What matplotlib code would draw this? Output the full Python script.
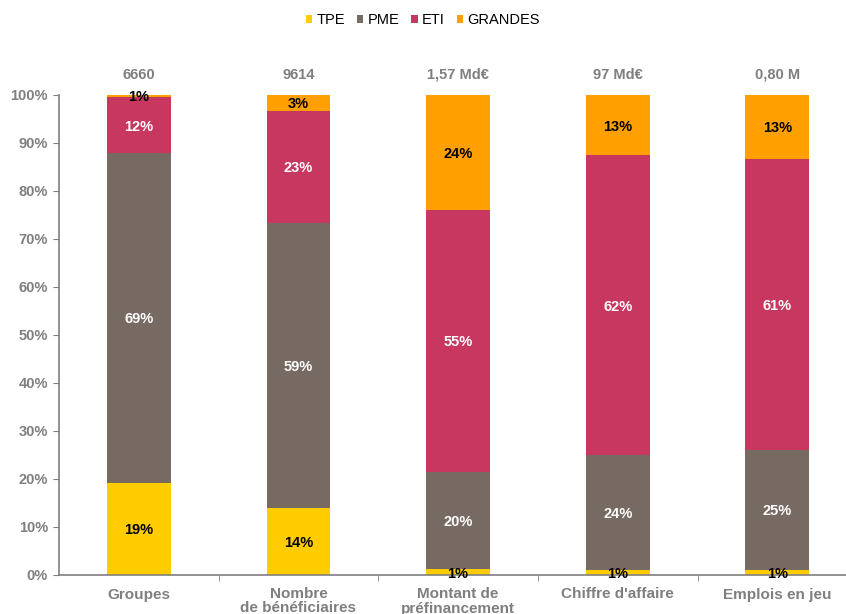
import matplotlib.pyplot as plt
import numpy as np

plt.rcParams['font.family'] = ['Liberation Sans', 'DejaVu Sans']

# data
categories = ['Groupes', 'Nombre\nde bénéficiaires', 'Montant de\npréfinancement',
              "Chiffre d'affaire", 'Emplois en jeu']
totals = ['6660', '9614', '1,57 Md€', '97 Md€', '0,80 M']
series = ['TPE', 'PME', 'ETI', 'GRANDES']
tpe = [19.2, 14.0, 1.2, 1.1, 1.1]
pme = [68.7, 59.3, 20.3, 23.9, 24.9]
eti = [11.6, 23.4, 54.6, 62.4, 60.7]
grandes = [0.6, 3.3, 23.9, 12.6, 13.3]

colors = ['#FFCC00', '#766A62', '#C8375F', '#FFA000']
text_colors = ['black', 'white', 'white', 'black']
grey = '#7F7F7F'

fig = plt.figure(figsize=(8.46, 6.14), dpi=100)
ax = fig.add_axes([59 / 846, 39 / 614, 787 / 846, 480 / 614])

x = np.arange(len(categories))
bottom = np.zeros(len(categories))
for name, vals, col, tcol in zip(series, [tpe, pme, eti, grandes], colors, text_colors):
    vals = np.array(vals)
    ax.bar(x, vals, 0.4, bottom=bottom, color=col, label=name)
    for xi, b, v in zip(x, bottom, vals):
        ax.text(xi, b + v / 2, '%d%%' % round(v), ha='center', va='center_baseline',
                color=tcol, fontsize=10.5, fontweight='bold')
    bottom += vals

for xi, t in zip(x, totals):
    ax.text(xi, 102.8, t, ha='center', va='bottom', color=grey,
            fontsize=10.5, fontweight='bold')

ax.set_xlim(-0.5, 4.43)
ax.set_ylim(0, 100)
ax.set_yticks(np.arange(0, 101, 10))
ax.set_yticklabels(['%d%%' % v for v in range(0, 101, 10)])
ax.set_xticks(x)
ax.set_xticklabels(categories, linespacing=1.0)
ax.set_xticks(np.arange(0.5, 4.5, 1), minor=True)
ax.tick_params(axis='x', which='major', length=0, pad=9)
ax.tick_params(axis='x', which='minor', length=4, color=grey, direction='out')
ax.tick_params(axis='y', length=4, color=grey, pad=4)
for lab in ax.get_xticklabels():
    lab.set_color(grey)
    lab.set_fontweight('bold')
    lab.set_fontsize(11)
for lab in ax.get_yticklabels():
    lab.set_color(grey)
    lab.set_fontweight('bold')
    lab.set_fontsize(10.5)

for s in ['top', 'right']:
    ax.spines[s].set_visible(False)
for s in ['left', 'bottom']:
    ax.spines[s].set_color(grey)
    ax.spines[s].set_linewidth(1.2)

fig.legend(loc='upper center', bbox_to_anchor=(0.5, 1.0), ncol=4, frameon=False,
           fontsize=10.5, handlelength=0.45, handleheight=0.45, handletextpad=0.3,
           columnspacing=0.8, borderaxespad=0.5)

fig.savefig('out.png', dpi=100)
